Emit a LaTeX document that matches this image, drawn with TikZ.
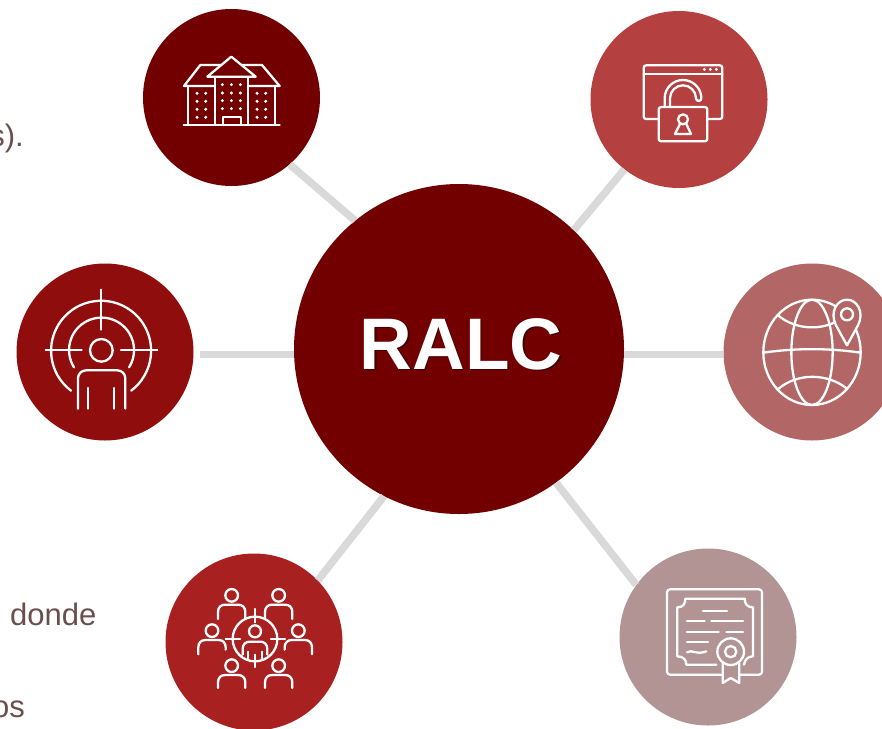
\documentclass[tikz,border=0pt]{standalone}
\usepackage{fontspec}
\setmainfont{Liberation Sans}
\definecolor{darkred}{HTML}{720000}
\definecolor{toprose}{HTML}{B54040}
\definecolor{leftred}{HTML}{8F0D0D}
\definecolor{globerose}{HTML}{B26666}
\definecolor{crowdred}{HTML}{A82020}
\definecolor{certrose}{HTML}{B39494}
\definecolor{spoke}{HTML}{D9D9D9}
\definecolor{bodytext}{HTML}{6B4F4F}
\definecolor{ralcshade}{HTML}{3F0000}
\tikzset{
  hub/.style={circle,draw=none,inner sep=0pt,minimum size=330pt,fill=darkred},
  sat/.style={circle,draw=none,inner sep=0pt,minimum size=177pt,fill=#1},
  spokeline/.style={draw=spoke,line width=7.5pt},
  iconline/.style={draw=white,line width=2.3pt,line cap=round,line join=round},
  dotmark/.style={fill=white,draw=none},
  cuttext/.style={inner sep=0pt,text=bodytext,font=\fontsize{31}{35}\selectfont},
  zoomed/.style={shift={#1},x=0.33333pt,y=-0.33333pt}
}
\newcommand{\crowdperson}[4]{%
  \begin{scope}[shift={(#1,#2)}]
    \draw[iconline] (0,0) circle [radius=19];
    \draw[iconline] (-41,#3) -- (-41,50) .. controls (-41,36) and (-32,28) .. (-20,28) -- (20,28) .. controls (32,28) and (41,36) .. (41,50) -- (41,#4);
  \end{scope}}
\begin{document}
\begin{tikzpicture}[x=1pt,y=-1pt]
\useasboundingbox (0,0) rectangle (882,728);
\clip (0,0) rectangle (882,728);
\fill[white] (0,0) rectangle (882,728);

\node[cuttext,anchor=base east] (t1) at (24,146) {s).};
\node[cuttext,anchor=base west] (t2) at (10,625) {donde};
\node[cuttext,anchor=base east] (t3) at (25,717) {os};

\coordinate (leftend) at (200,354.5);
\node[hub] (c) at (459,349) {};
\node[sat=darkred] (tl) at (231.5,97.5) {};
\node[sat=toprose] (tr) at (679,99.5) {};
\node[sat=leftred] (l) at (105,352) {};
\node[sat=globerose] (r) at (812,352) {};
\node[sat=crowdred] (bl) at (254,642) {};
\node[sat=certrose] (br) at (708,637) {};

\draw[spokeline] (c.129) -- (tl.-49);
\draw[spokeline] (c.46) -- (tr.232);
\draw[spokeline] (leftend -| c.west) -- (leftend);
\draw[spokeline] (leftend -| c.east) -- (leftend -| r.west);
\draw[spokeline] (c.243) -- (bl.44);
\draw[spokeline] (c.-54) -- (br.144);

\node[inner sep=0pt,anchor=base,text=ralcshade,font=\bfseries\fontsize{73}{80}\selectfont] (ralcshadow) at (462.5,370.5) {RALC};
\node[inner sep=0pt,anchor=base,text=white,font=\bfseries\fontsize{73}{80}\selectfont] (ralc) at (461,369) {RALC};

% building
\begin{scope}[zoomed={(143,10)}]
  \draw[iconline] (122,345) -- (410,345);
  \draw[iconline] (193,200) -- (265,140) -- (338,200) -- cycle;
  \draw[iconline] (235,165) -- (172,165) -- (123,228) -- (212,228);
  \draw[iconline] (297,165) -- (357,165) -- (410,228) -- (317,228);
  \draw[iconline] (217,205) -- (217,345) (315,205) -- (315,345);
  \draw[iconline] (135,228) -- (135,345) (397,228) -- (397,345);
  \draw[iconline] (240,345) -- (240,320) -- (295,320) -- (295,345);
  \foreach \px in {238,265,292} \foreach \py in {224,249,272,296}
    \fill[dotmark] (\px,\py) circle [radius=5];
  \foreach \px in {162,188,342,368} \foreach \py in {250,274,298,322}
    \fill[dotmark] (\px,\py) circle [radius=5];
\end{scope}

% browser and padlock
\begin{scope}[zoomed={(590,10)}]
  \draw[iconline,rounded corners=2.5pt] (205,327) -- (161,327) -- (161,166) -- (397,166) -- (397,327) -- (352,327);
  \draw[iconline] (161,192) -- (397,192);
  \foreach \px in {343,361,379} \fill[dotmark] (\px,178) circle [radius=5];
  \draw[iconline,rounded corners=2.5pt] (206,291) rectangle (352,394);
  \draw[iconline] (224,291) -- (224,265) arc [start angle=180,end angle=0,radius=18.33pt]
     arc [start angle=0,end angle=-180,radius=2.67pt]
     arc [start angle=0,end angle=180,radius=13pt] -- (240,291);
  \draw[iconline] (279,328) circle [radius=15];
  \draw[iconline] (270,342) -- (255,372) -- (303,372) -- (289,342);
\end{scope}

% targeted person
\begin{scope}[zoomed={(15,262)}]
  \draw[iconline] (259,265) circle [radius=34];
  \draw[iconline] (168,386) arc [start angle=233,end angle=-53,radius=50pt];
  \draw[iconline] (177,316) arc [start angle=212,end angle=-32,radius=32.5pt];
  \draw[iconline] (259,83) -- (259,203);
  \draw[iconline] (92,265) -- (200,265) (318,265) -- (427,265);
  \draw[iconline,rounded corners=8pt] (189,440) -- (189,325) -- (331,325) -- (331,440);
  \draw[iconline] (220,378) -- (220,440) (298,378) -- (298,440);
\end{scope}

% globe and pin
\begin{scope}[zoomed={(722,262)}]
  \draw[iconline] (270,271) ellipse [x radius=146,y radius=158];
  \draw[iconline] (270,271) ellipse [x radius=62,y radius=158];
  \draw[iconline] (124,272) .. controls (220,258) and (320,258) .. (416,272);
  \draw[iconline] (168,160) .. controls (225,208) and (315,208) .. (372,160);
  \draw[iconline] (170,380) .. controls (225,333) and (315,333) .. (372,378);
  \draw[iconline,fill=globerose] (375,250) -- (342,190) .. controls (322,150) and (345,113) .. (375,113) .. controls (405,113) and (428,150) .. (408,190) -- cycle;
  \draw[iconline] (375,157) circle [radius=18];
\end{scope}

% crowd with target
\begin{scope}[zoomed={(165,553)}]
  \crowdperson{200}{127}{71}{71}
  \crowdperson{341}{127}{71}{71}
  \crowdperson{141}{233}{71}{57}
  \crowdperson{400}{233}{57}{71}
  \crowdperson{200}{338}{67}{67}
  \crowdperson{341}{338}{67}{67}
  \draw[iconline,fill=crowdred] (270,258) circle [radius=67];
  \draw[iconline] (270,168) -- (270,208) (270,305) -- (270,342);
  \draw[iconline] (182,258) -- (225,258) (318,258) -- (360,258);
  \draw[iconline] (270,235) circle [radius=18];
  \draw[iconline] (233,305) -- (233,288) .. controls (233,274) and (242,266) .. (254,266) -- (286,266) .. controls (298,266) and (307,274) .. (307,288) -- (307,305);
  \draw[iconline] (250,296) -- (250,316) (290,296) -- (290,316);
\end{scope}

% certificate
\begin{scope}[zoomed={(618,548)}]
  \draw[iconline,rounded corners=3pt] (312,380) -- (147,380) -- (147,124) -- (432,124) -- (432,380) -- (366,380);
  \draw[iconline] (295,350) -- (205,350) .. controls (205,335) and (195,325) .. (178,325) -- (178,178) .. controls (195,178) and (202,168) .. (202,152) -- (380,152) .. controls (380,168) and (388,178) .. (405,178) -- (405,325) .. controls (390,325) and (380,335) .. (378,350);
  \draw[iconline] (255,189) -- (327,189);
  \draw[iconline] (207,219) -- (260,219) (280,219) -- (375,219);
  \draw[iconline] (207,251) -- (302,251) (325,251) -- (375,251);
  \draw[iconline] (207,283) -- (270,283);
  \draw[iconline] (207,313) .. controls (222,303) and (235,322) .. (265,310);
  \draw[iconline] (338,311) circle [radius=40];
  \draw[iconline] (338,311) circle [radius=17];
  \draw[iconline] (314,347) -- (314,405) -- (338,390) -- (364,405) -- (364,347);
\end{scope}
\end{tikzpicture}
\end{document}
